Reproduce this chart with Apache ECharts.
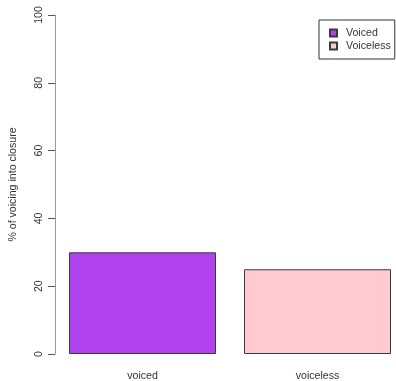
<!DOCTYPE html>
<html>
<head>
<meta charset="utf-8">
<script src="https://cdn.jsdelivr.net/npm/echarts@6/dist/echarts.min.js"></script>
<style>
  html, body { margin: 0; padding: 0; background: #ffffff; }
  #chart { width: 396px; height: 381px; }
</style>
</head>
<body>
<div id="chart"></div>
<script>
// Percentage of voicing that continues into stop closure, by stop type
const categories = ['voiced', 'voiceless'];
const seriesNames = ['Voiced', 'Voiceless'];
const voicingPct = [30, 25];
const yTicks = [0, 20, 40, 60, 80, 100];
const fillColors = ['#b042ee', '#ffcad2'];

const FONT = 'Liberation Sans, Arial, sans-serif';
const TEXT = '#333333';

// One series per stop type, stacked so each sits alone in its own category slot
const series = seriesNames.map((name, i) => ({
  name: name,
  type: 'bar',
  stack: 'stops',
  barCategoryGap: '16%',
  itemStyle: { color: fillColors[i], borderColor: '#3a3a3a', borderWidth: 1 },
  data: categories.map((c, j) => (j === i ? voicingPct[j] : '-'))
}));

const chart = echarts.init(document.getElementById('chart'), null, { renderer: 'canvas' });
chart.setOption({
  animation: false,
  backgroundColor: '#ffffff',
  textStyle: { fontFamily: FONT },
  // plot region runs a little past the right edge of the canvas
  grid: { left: 55, width: 350, top: 15, bottom: 27, containLabel: false, outerBoundsMode: 'none' },
  legend: {
    orient: 'vertical',
    left: 319,
    top: 20,
    padding: [7, 4, 7, 10],
    itemGap: 1,
    itemWidth: 7,
    itemHeight: 7,
    borderColor: '#333333',
    borderWidth: 1,
    icon: 'rect',
    data: seriesNames,
    textStyle: { fontFamily: FONT, fontSize: 10.6, color: TEXT, lineHeight: 12, padding: [0, 0, 0, 4] }
  },
  xAxis: {
    type: 'category',
    data: categories,
    axisLine: { show: false },
    axisTick: { show: false },
    axisLabel: { margin: 17, fontFamily: FONT, fontSize: 10.6, color: TEXT }
  },
  yAxis: {
    type: 'value',
    min: yTicks[0],
    max: yTicks[yTicks.length - 1],
    interval: yTicks[1] - yTicks[0],
    name: '% of voicing into closure',
    nameLocation: 'middle',
    nameRotate: 90,
    nameGap: 36,
    nameTextStyle: { fontFamily: FONT, fontSize: 10.6, color: TEXT },
    splitLine: { show: false },
    axisLine: { show: true, lineStyle: { color: '#999999', width: 1 } },
    axisTick: { show: true, length: 7, lineStyle: { color: '#555555', width: 1 } },
    axisLabel: { rotate: 90, margin: 10, fontFamily: FONT, fontSize: 10.6, color: TEXT }
  },
  series: series
});
</script>
</body>
</html>
